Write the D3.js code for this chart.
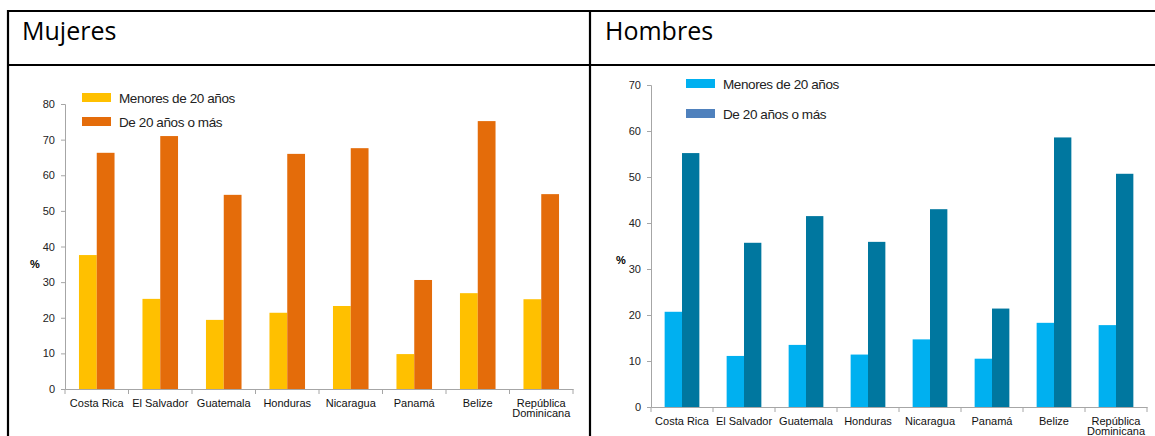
<!DOCTYPE html>
<html>
<head>
<meta charset="utf-8">
<script src="https://cdn.jsdelivr.net/npm/d3@7"></script>
<style>
  body { margin: 0; background: #fff; }
  svg text { font-family: "Liberation Sans", Arial, sans-serif; }
</style>
</head>
<body>
<svg id="chart" width="1155" height="436"></svg>
<script>
const countries = ["Costa Rica", "El Salvador", "Guatemala", "Honduras", "Nicaragua", "Panamá", "Belize", "República Dominicana"];
const seriesNames = ["Menores de 20 años", "De 20 años o más"];

const womenUnder20 = [37.6, 25.3, 19.4, 21.4, 23.3, 9.8, 26.9, 25.2];
const womenOver20 = [66.3, 71.0, 54.5, 66.0, 67.6, 30.6, 75.2, 54.7];
const menUnder20 = [20.7, 11.1, 13.5, 11.4, 14.7, 10.5, 18.3, 17.8];
const menOver20 = [55.2, 35.7, 41.5, 35.9, 43.0, 21.4, 58.6, 50.7];

const womenTicks = [0, 10, 20, 30, 40, 50, 60, 70, 80];
const menTicks = [0, 10, 20, 30, 40, 50, 60, 70];

const svg = d3.select("#chart");

// table frame
const frame = svg.append("g").attr("stroke", "#000").attr("stroke-width", 2.2);
frame.append("line").attr("x1", 7).attr("x2", 1155).attr("y1", 11).attr("y2", 11);
frame.append("line").attr("x1", 7).attr("x2", 1155).attr("y1", 65).attr("y2", 65);
frame.append("line").attr("x1", 8).attr("x2", 8).attr("y1", 10).attr("y2", 436);
frame.append("line").attr("x1", 590).attr("x2", 590).attr("y1", 10).attr("y2", 436);

svg.append("text").attr("x", 22).attr("y", 40)
    .style("font-family", "'Open Sans', sans-serif").style("font-size", "25px")
    .text("Mujeres");
svg.append("text").attr("x", 605).attr("y", 40)
    .style("font-family", "'Open Sans', sans-serif").style("font-size", "25px")
    .text("Hombres");

function drawPanel(opts) {
    const g = svg.append("g");

    const x = d3.scaleBand()
        .domain(countries)
        .range([opts.left, opts.right]);

    const sub = d3.scaleBand()
        .domain(seriesNames)
        .range([x.bandwidth() * 0.22, x.bandwidth() * 0.78]);

    const y = d3.scaleLinear()
        .domain([0, d3.max(opts.ticks)])
        .range([opts.bottom, opts.top]);

    const rows = countries.map((c, i) => ({ country: c, values: [opts.under[i], opts.over[i]] }));

    const groups = g.append("g")
        .selectAll("g")
        .data(rows)
        .enter()
        .append("g")
        .attr("transform", d => `translate(${x(d.country)},0)`);

    groups.selectAll("rect")
        .data(d => d.values.map((v, k) => ({ name: seriesNames[k], value: v, k })))
        .enter()
        .append("rect")
        .attr("x", d => sub(d.name))
        .attr("width", sub.bandwidth())
        .attr("y", d => y(d.value))
        .attr("height", d => y(0) - y(d.value))
        .attr("fill", d => opts.colors[d.k]);

    // y axis
    const yAxis = g.append("g")
        .attr("transform", `translate(${opts.left},0)`)
        .call(d3.axisLeft(y).tickValues(opts.ticks).tickSize(4).tickPadding(6));
    yAxis.select(".domain").attr("stroke", "#a6a6a6");
    yAxis.selectAll(".tick line").attr("stroke", "#a6a6a6");
    yAxis.selectAll("text").style("font-size", "11px").attr("fill", "#222");

    // x axis
    const xAxis = g.append("g")
        .attr("transform", `translate(0,${opts.bottom})`)
        .call(d3.axisBottom(x).tickSize(0).tickPadding(8).tickSizeOuter(0));
    xAxis.select(".domain").attr("stroke", "#a6a6a6");
    xAxis.selectAll(".tick text").remove();
    xAxis.selectAll(".tick")
        .append("text")
        .attr("fill", "#111")
        .attr("text-anchor", "middle")
        .style("font-size", "11px")
        .selectAll("tspan")
        .data(d => d === "República Dominicana" ? ["República", "Dominicana"] : [d])
        .enter()
        .append("tspan")
        .attr("x", 0)
        .attr("y", (d, i) => 18 + i * 10)
        .text(d => d);

    g.append("g")
        .selectAll("line")
        .data(countries.concat(["end"]))
        .enter()
        .append("line")
        .attr("x1", (d, i) => opts.left + i * x.step())
        .attr("x2", (d, i) => opts.left + i * x.step())
        .attr("y1", opts.bottom)
        .attr("y2", opts.bottom + 5)
        .attr("stroke", "#a6a6a6");

    g.append("text")
        .attr("x", opts.left - 30)
        .attr("y", y(opts.pctAt) + 4)
        .attr("text-anchor", "middle")
        .style("font-size", "11px")
        .style("font-weight", "bold")
        .text("%");

    // legend
    const legend = g.append("g")
        .selectAll("g")
        .data(seriesNames)
        .enter()
        .append("g")
        .attr("transform", (d, i) => `translate(${opts.legendX},${opts.legendY + i * opts.legendGap})`);
    legend.append("rect")
        .attr("width", 29).attr("height", 9)
        .attr("y", -5)
        .attr("fill", (d, i) => opts.legendColors[i]);
    legend.append("text")
        .attr("x", 37).attr("y", 5)
        .style("font-size", "13.5px")
        .style("letter-spacing", "-0.4px")
        .attr("fill", "#222")
        .text(d => d);
}

drawPanel({
    left: 65, right: 573, top: 104, bottom: 389,
    ticks: womenTicks, under: womenUnder20, over: womenOver20,
    colors: ["#ffc000", "#e46c0a"], legendColors: ["#ffc000", "#e46c0a"],
    legendX: 82, legendY: 98, legendGap: 24, pctAt: 35
});

drawPanel({
    left: 651, right: 1147, top: 85, bottom: 407,
    ticks: menTicks, under: menUnder20, over: menOver20,
    colors: ["#00b0f0", "#00779f"], legendColors: ["#00b0f0", "#4f81bd"],
    legendX: 686, legendY: 84, legendGap: 30, pctAt: 32
});
</script>
</body>
</html>
